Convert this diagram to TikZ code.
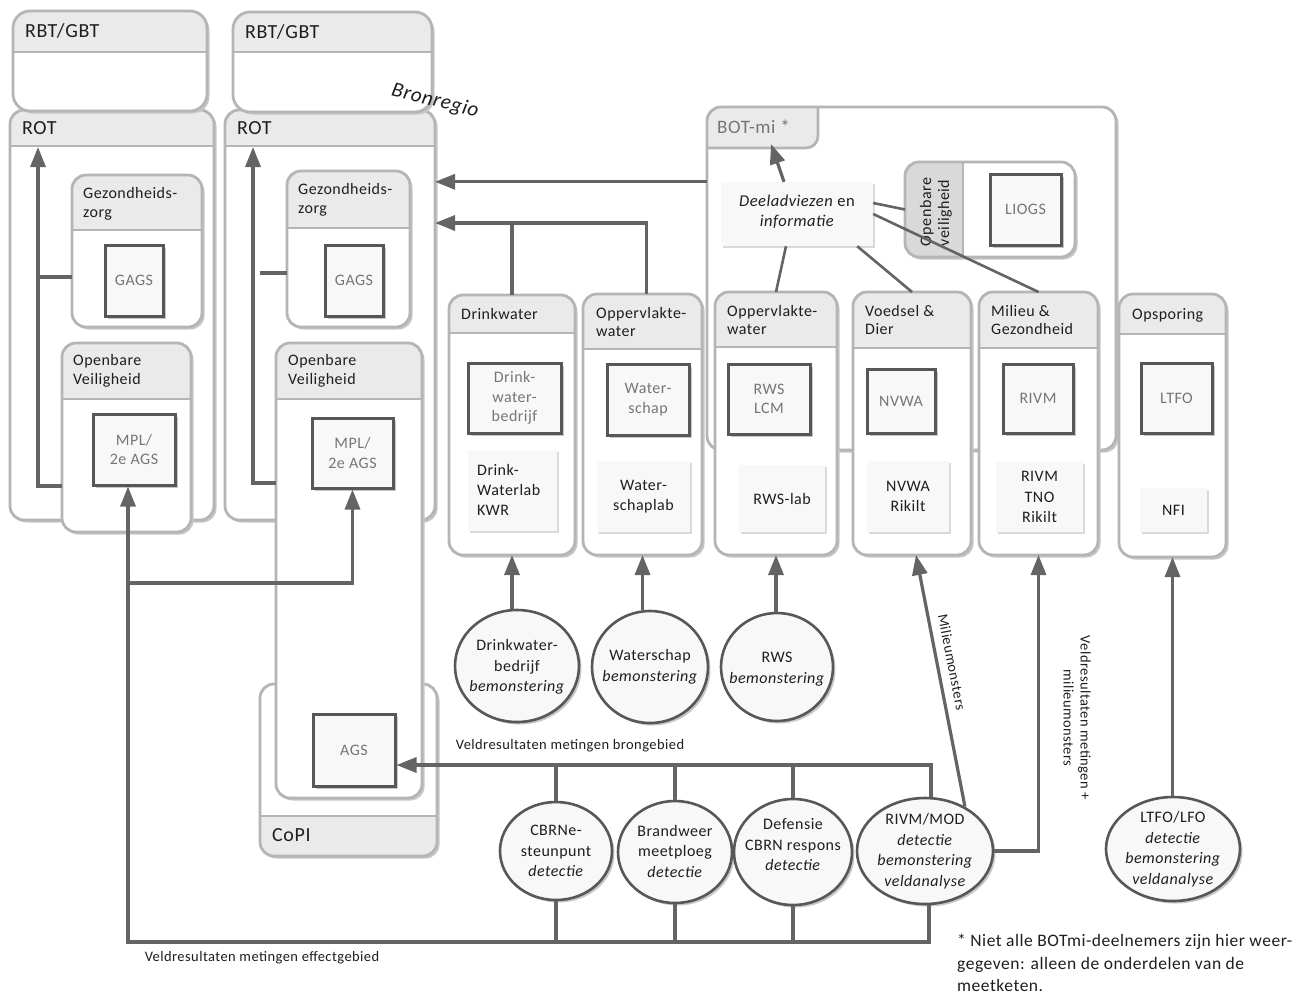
\documentclass[tikz,border=0pt]{standalone}
\usepackage{fontspec}
\setmainfont{Carlito}[LetterSpace=3.0]
\usetikzlibrary{arrows.meta,shadows,shapes.geometric}

\definecolor{frm}{HTML}{B5B5B5}
\definecolor{hdr}{HTML}{EAEAEB}
\definecolor{band}{HTML}{D9D9DA}
\definecolor{sqd}{HTML}{575757}
\definecolor{cnn}{HTML}{646464}
\definecolor{pale}{HTML}{F8F8F8}
\definecolor{gtx}{HTML}{767676}
\definecolor{txt}{HTML}{1E1E1E}

\newcommand\fsz[2]{\fontsize{#1pt}{#2pt}\selectfont}

\tikzset{
 shd/.style={drop shadow={shadow xshift=2.5pt,shadow yshift=-2.5pt,fill=black!22,opacity=1}},
 grpbox/.style={rectangle, draw=none, fill=white, shd, inner sep=0, outer sep=0},
 frl/.style={draw=frm, line width=2.8pt},
 hdrtxt/.style={anchor=west, align=left, inner sep=0, text=txt, font=\fsz{16}{18.5}},
 bigtxt/.style={anchor=west, inner sep=0, text=txt, font=\fsz{20}{22}},
 sq/.style={rectangle, draw=sqd, line width=3pt, fill=pale, shd, inner sep=0, align=center, text=gtx, font=\fsz{16}{19.5}},
 lab/.style={rectangle, draw=none, fill=pale, drop shadow={shadow xshift=2pt,shadow yshift=-2pt,fill=black!15,opacity=1}, inner sep=0, align=center, text=txt, font=\fsz{16}{20.5}},
 circ/.style={ellipse, draw=sqd, line width=2.6pt, fill=pale, shd, inner sep=0},
 ctxt/.style={align=center, inner sep=0, text=txt, font=\fsz{16}{20.5}},
 conn/.style={draw=cnn, line width=3.2pt},
 arr/.style={conn, -{Triangle[length=20pt,width=15pt]}},
 thinc/.style={draw=cnn, line width=2.6pt},
 small/.style={inner sep=0, text=txt, font=\fsz{14.5}{17}},
}

% name x1 y1 x2 y2 headerheight radius
\newcommand\grp[7]{%
 \node[grpbox, rounded corners=#7pt, minimum width={(#4-#2)*1pt}, minimum height={(#5-#3)*1pt}] (#1) at ({(#2+#4)/2},{(#3+#5)/2}) {};
 \begin{scope}
  \clip[rounded corners=#7pt] (#1.north west) rectangle (#1.south east);
  \fill[hdr] (#1.north west) rectangle ([yshift=-#6pt]#1.north east);
 \end{scope}
 \draw[frl] ([yshift=-#6pt]#1.north west) -- ([yshift=-#6pt]#1.north east);
 \draw[frl, rounded corners=#7pt] (#1.north west) rectangle (#1.south east);
}
% style name x1 y1 x2 y2 text
\newcommand\bx[7]{%
 \node[#1, minimum width={(#5-#3)*1pt}, minimum height={(#6-#4)*1pt}] (#2) at ({(#3+#5)/2},{(#4+#6)/2}) {#7};
}

\begin{document}
\begin{tikzpicture}[x=1pt,y=-1pt]
\useasboundingbox[fill=white] (0,0) rectangle (1308,994);

% ---------- BOT-mi ----------
\node[grpbox, rounded corners=14pt, minimum width=409pt, minimum height=343pt] (bot) at (911.5,278.5) {};
\begin{scope}
 \clip[rounded corners=14pt] (bot.north west) rectangle (bot.south east);
 \fill[hdr, rounded corners=12pt] (690,90) rectangle (818,148);
 \draw[frl, rounded corners=12pt] (690,148) -- (818,148) -- (818,90);
\end{scope}
\draw[frl, rounded corners=14pt] (bot.north west) rectangle (bot.south east);
\node[anchor=west, inner sep=0, text=gtx, font=\fsz{19}{21}] (botT) at (717,127) {BOT-mi *};

% ---------- ROT / RBT ----------
\grp{rotA}{10}{110}{214}{520}{36}{14}
\grp{rotB}{225}{110}{435}{520}{36}{14}
\grp{rbtA}{13}{11}{207}{111}{41}{17}
\grp{rbtB}{233}{12}{432}{112}{40}{17}
\node[bigtxt] (rbtAT) at (25,31) {RBT/GBT};
\node[bigtxt] (rbtBT) at (245,32) {RBT/GBT};
\node[bigtxt] (rotAT) at (22,128) {ROT};
\node[bigtxt] (rotBT) at (237,128) {ROT};
\node[rotate=-14, font=\fsz{21}{24}\itshape, text=txt, inner sep=0] (bron) at (435,101) {Bronregio};

\grp{gzA}{72}{175}{202}{327}{55}{14}
\node[hdrtxt] (gzAT) at (83,204) {Gezondheids-\\zorg};
\grp{gzB}{287}{171}{410}{327}{57}{14}
\node[hdrtxt] (gzBT) at (298,200) {Gezondheids-\\zorg};

\grp{ovA}{62}{343}{191}{532}{56}{14}
\node[hdrtxt] (ovAT) at (73,371) {Openbare\\Veiligheid};

% CoPI
\node[grpbox, rounded corners=14pt, minimum width=177pt, minimum height=172pt] (copi) at (348.5,770) {};
\begin{scope}
 \clip[rounded corners=14pt] (copi.north west) rectangle (copi.south east);
 \fill[hdr] (copi.south west) rectangle ([yshift=40pt]copi.south east);
\end{scope}
\draw[frl] ([yshift=40pt]copi.south west) -- ([yshift=40pt]copi.south east);
\draw[frl, rounded corners=14pt] (copi.north west) rectangle (copi.south east);
\node[bigtxt] (copiT) at (272,835) {CoPI};

\grp{ovB}{276}{343}{422}{798}{56}{14}
\node[hdrtxt] (ovBT) at (288,371) {Openbare\\Veiligheid};

% ---------- columns ----------
\grp{dw}{449}{295}{575}{555}{38}{14}
\node[hdrtxt] (dwT) at (461,314) {Drinkwater};
\grp{owA}{583}{294}{702}{555}{55}{14}
\node[hdrtxt] (owAT) at (596,322) {Oppervlakte-\\water};
\grp{owB}{715}{292}{837}{555}{55}{14}
\node[hdrtxt] (owBT) at (727,320) {Oppervlakte-\\water};
\grp{vd}{853}{292}{971}{555}{56}{14}
\node[hdrtxt] (vdT) at (865,320) {Voedsel \&\\Dier};
\grp{mg}{979}{292}{1098}{555}{56}{14}
\node[hdrtxt] (mgT) at (991,320) {Milieu \&\\Gezondheid};
\grp{ops}{1119}{294}{1226}{557}{40}{14}
\node[hdrtxt] (opsT) at (1132,315) {Opsporing};

% LIOGS group
\node[grpbox, rounded corners=14pt, minimum width=170pt, minimum height=95pt] (liogsgrp) at (990,209.5) {};
\begin{scope}
 \clip[rounded corners=14pt] (liogsgrp.north west) rectangle (liogsgrp.south east);
 \fill[band] (liogsgrp.north west) rectangle ([xshift=58pt]liogsgrp.south west);
\end{scope}
\draw[frl] ([xshift=58pt]liogsgrp.north west) -- ([xshift=58pt]liogsgrp.south west);
\draw[frl, rounded corners=14pt] (liogsgrp.north west) rectangle (liogsgrp.south east);
\node[rotate=90, align=left, inner sep=0, text=txt, font=\fsz{16}{18}] (liogsT) at (936,212) {Openbare\\veiligheid};

% ---------- inner squares ----------
\bx{sq}{gagsA}{105}{245}{163}{316}{GAGS}
\bx{sq}{gagsB}{325}{245}{383}{316}{GAGS}
\bx{sq}{mplA}{93}{414}{175}{485}{MPL/\\2e AGS}
\bx{sq}{mplB}{312}{418}{393}{488}{MPL/\\2e AGS}
\bx{sq}{ags}{313}{714}{395}{786}{AGS}
\bx{sq}{dwb}{468}{363}{561}{433}{Drink-\\water-\\bedrijf}
\bx{sq}{ws}{607}{364}{689}{435}{Water-\\schap}
\bx{sq}{rwslcm}{728}{364}{810}{434}{RWS\\LCM}
\bx{sq}{nvwa}{867}{369}{935}{433}{NVWA}
\bx{sq}{rivm}{1003}{364}{1073}{433}{RIVM}
\bx{sq}{ltfo}{1141}{363}{1212}{433}{LTFO}
\bx{sq}{liogs}{990}{174}{1061}{245}{LIOGS}

% ---------- lab boxes ----------
\bx{lab}{dwl}{468}{450}{557}{531}{}
\node[anchor=west, align=left, inner sep=0, text=txt, font=\fsz{16}{20}] (dwlT) at (477,490) {Drink-\\Waterlab\\KWR};
\bx{lab}{wsl}{597}{461}{690}{532}{Water-\\schaplab}
\bx{lab}{rwsl}{739}{465}{825}{532}{RWS-lab}
\bx{lab}{nvwal}{867}{461}{949}{532}{NVWA\\Rikilt}
\bx{lab}{rivml}{996}{462}{1083}{532}{RIVM\\TNO\\Rikilt}
\bx{lab}{nfi}{1140}{488}{1207}{532}{NFI}
\bx{lab}{deel}{721}{182}{873}{246}{}
\node[ctxt, font=\fsz{16.5}{20}] (deelT) at (797,212) {\textit{Deeladviezen} en\\\textit{informatie}};

% ---------- circles ----------
\node[circ, minimum width=124pt, minimum height=112pt] (cdw) at (517,666) {};
\node[ctxt] (cdwT) at (517,667) {Drinkwater-\\bedrijf\\\textit{bemonstering}};
\node[circ, minimum width=116pt, minimum height=112pt] (cws) at (650,667) {};
\node[ctxt] (cwsT) at (650,667) {Waterschap\\\textit{bemonstering}};
\node[circ, minimum width=112pt, minimum height=108pt] (crws) at (777,667) {};
\node[ctxt] (crwsT) at (777,669) {RWS\\\textit{bemonstering}};
\node[circ, minimum width=112pt, minimum height=98pt] (ccbrn) at (556,851) {};
\node[ctxt] (ccbrnT) at (556,851) {CBRNe-\\steunpunt\\\textit{detectie}};
\node[circ, minimum width=114pt, minimum height=102pt] (cbw) at (675,852) {};
\node[ctxt] (cbwT) at (675,851) {Brandweer\\meetploeg\\\textit{detectie}};
\node[circ, minimum width=118pt, minimum height=106pt] (cdef) at (793,852) {};
\node[ctxt] (cdefT) at (793,845) {Defensie\\CBRN respons\\\textit{detectie}};
\node[circ, minimum width=136pt, minimum height=106pt] (crivm) at (925,851) {};
\node[ctxt] (crivmT) at (925,851) {RIVM/MOD\\\textit{detectie}\\\textit{bemonstering}\\\textit{veldanalyse}};
\node[circ, minimum width=134pt, minimum height=104pt] (cltfo) at (1173,849) {};
\node[ctxt] (cltfoT) at (1173,849) {LTFO/LFO\\\textit{detectie}\\\textit{bemonstering}\\\textit{veldanalyse}};

% ---------- connectors ----------
\coordinate (bottab) at (771,144);
\draw[arr] ([xshift=-13pt]deel.north) -- (bottab);
\draw[arr] (deel.north -| bot.west) -- (deel.north -| rotB.east);
\coordinate (dj) at (0,223);
\draw[conn] (dw.north) -- (dw.north |- dj);
\draw[arr] ([xshift=4pt]owA.north) |- (rotB.east |- dj);
\draw[thinc] ([xshift=-11pt]deel.south) -- (owB.north);
\draw[thinc] ([xshift=-16pt]deel.south east) -- (vd.north);
\draw[thinc] ([yshift=11pt]deel.east) -- (liogsgrp.west);
\draw[thinc] (deel.east) -- (mg.north);

\coordinate (rA1) at (38,486);
\coordinate (rAh) at (38,147);
\draw[arr] (rA1 -| ovA.west) -- (rA1) -- (rAh);
\coordinate (rA2) at (38,277);
\draw[conn] (rA2) -- (rA2 -| gzA.west);
\coordinate (rB1) at (253,483);
\coordinate (rBh) at (253,147);
\draw[arr] (rB1 -| ovB.west) -- (rB1) -- (rBh);
\coordinate (rB2) at (260,273);
\draw[conn] (rB2) -- (rB2 -| gzB.west);

\coordinate (bl) at (128,942);
\draw[arr] ([xshift=4pt]crivm.south) |- (bl) -- (bl |- mplA.south);
\draw[conn] (ccbrn.south) -- (ccbrn.south |- bl);
\draw[conn] (cbw.south) -- (cbw.south |- bl);
\draw[conn] (cdef.south) -- (cdef.south |- bl);
\coordinate (bm) at (128,583);
\draw[arr] (bm) -| (mplB.south);

\coordinate (tl) at (0,765);
\draw[arr] ([xshift=6pt]crivm.north) |- (ags.east |- tl);
\draw[conn] (ccbrn.north) -- (ccbrn.north |- tl);
\draw[conn] (cbw.north) -- (cbw.north |- tl);
\draw[conn] (cdef.north) -- (cdef.north |- tl);

\draw[arr] (dw.south |- cdw.north) -- (dw.south);
\draw[arr] (owA.south |- cws.north) -- (owA.south);
\draw[arr] (owB.south |- crws.north) -- (owB.south);
\draw[arr] (ops.south |- cltfo.north) -- (ops.south);
\draw[arr] (crivm.48) -- ([xshift=4pt]vd.south);
\draw[arr] (crivm.east) -| (mg.south);

% ---------- labels ----------
\node[small] (brongeb) at (570,746) {Veldresultaten metingen brongebied};
\node[small] (effgeb) at (262,958) {Veldresultaten metingen effectgebied};
\node[small, rotate=-79] (milmon) at (952,662) {Milieumonsters};
\node[small, rotate=-90, align=center] (veldmil) at (1077,718) {Veldresultaten metingen +\\milieumonsters};
\node[anchor=north west, align=left, inner sep=0, text=txt, font=\fsz{17.5}{22.5}] (fn) at (957,934) {* Niet alle BOTmi-deelnemers zijn hier weer-\\gegeven: alleen de onderdelen van de\\meetketen.};
\end{tikzpicture}
\end{document}
